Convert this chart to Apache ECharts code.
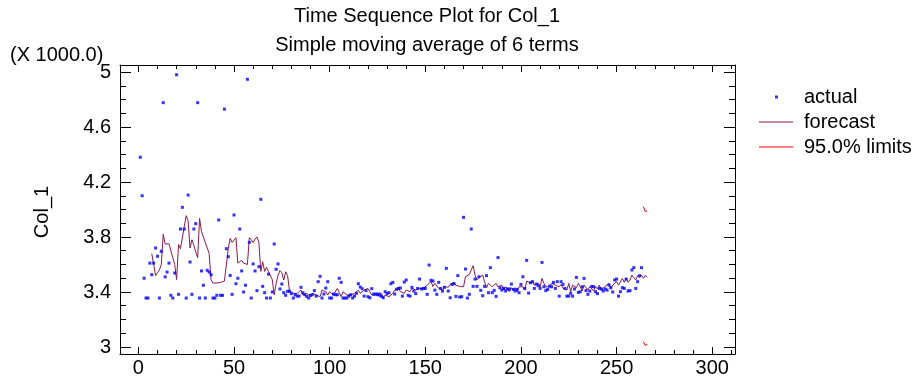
<!DOCTYPE html>
<html><head><meta charset="utf-8">
<script src="https://cdn.jsdelivr.net/npm/echarts@6/dist/echarts.min.js"></script>
<style>html,body{margin:0;padding:0;background:#fff}#c{width:917px;height:381px}</style>
</head><body><div id="c"></div>
<script>
const chartTitle = 'Time Sequence Plot for Col_1';
const chartSubtitle = 'Simple moving average of 6 terms';
const yAxisTitle = 'Col_1';
const yScaleNote = '(X 1000.0)';
const xTicks = [0, 50, 100, 150, 200, 250, 300];
const xMinorTicks = [10, 20, 30, 40, 60, 70, 80, 90, 110, 120, 130, 140, 160, 170, 180, 190, 210, 220, 230, 240, 260, 270, 280, 290, 310];
const yTicks = [3, 3.4, 3.8, 4.2, 4.6, 5];
const yMinorTicks = [3.1, 3.2, 3.3, 3.5, 3.6, 3.7, 3.9, 4.0, 4.1, 4.3, 4.4, 4.5, 4.7, 4.8, 4.9];
const xRange = [-9.6, 311.9];
const yRange = [2.949, 5.051];

const actualStart = 1;
const actual = [
  4.38, 4.10, 3.50, 3.356, 3.356, 3.61, 3.526, 3.61, 3.72, 3.66,
  3.356, 3.696, 4.777, 3.51, 3.545, 3.61, 3.376, 3.356, 3.538, 4.98,
  3.383, 3.858, 4.016, 3.858, 3.356, 4.105, 3.618, 3.383, 3.858, 3.897,
  4.777, 3.356, 3.553, 3.449, 3.356, 3.558, 3.545, 3.526, 3.356, 3.356,
  3.376, 3.924, 3.376, 3.376, 4.73, 3.715, 3.657, 3.52, 3.383, 3.96,
  3.46, 3.50, 3.858, 3.553, 3.40, 3.449, 4.947, 3.761, 3.356, 3.604,
  3.553, 3.41, 3.584, 4.074, 3.441, 3.395, 3.356, 3.53, 3.356, 3.40,
  3.749, 3.565, 3.604, 3.422,
  3.458, 3.395, 3.376, 3.405, 3.405, 3.388, 3.356, 3.38, 3.37, 3.37,
  3.434, 3.395, 3.38, 3.368, 3.356, 3.376, 3.38, 3.41, 3.37, 3.475,
  3.514, 3.356, 3.385, 3.429, 3.475, 3.356, 3.356, 3.385, 3.38, 3.38,
  3.5, 3.47, 3.356, 3.356, 3.356, 3.37, 3.38, 3.356, 3.37, 3.39,
  3.46, 3.436, 3.424, 3.37, 3.41, 3.366,
  3.358, 3.424, 3.385, 3.385, 3.38, 3.385, 3.368, 3.358, 3.402, 3.388,
  3.395, 3.46, 3.47, 3.385, 3.42, 3.426, 3.429, 3.37, 3.472, 3.487,
  3.376, 3.37, 3.434, 3.407, 3.388, 3.426, 3.494, 3.422, 3.426, 3.426,
  3.383, 3.596, 3.485, 3.48, 3.414, 3.383, 3.47, 3.426, 3.407, 3.434,
  3.572, 3.407, 3.358, 3.455, 3.46, 3.368, 3.519, 3.363,
  3.366, 3.943, 3.567, 3.356, 3.383, 3.858, 3.441, 3.494, 3.441, 3.511,
  3.412, 3.373, 3.441, 3.519, 3.395, 3.577, 3.395, 3.412, 3.368, 3.65,
  3.431, 3.414, 3.426, 3.407, 3.422, 3.422, 3.458, 3.419, 3.407, 3.419,
  3.395, 3.455, 3.511, 3.426, 3.63, 3.392, 3.468, 3.475, 3.426, 3.458,
  3.446, 3.426, 3.615, 3.438, 3.41, 3.419, 3.443, 3.438,
  3.47, 3.426, 3.475, 3.37, 3.475, 3.455, 3.426, 3.37, 3.37, 3.39,
  3.37, 3.422, 3.506, 3.397, 3.402, 3.438, 3.499, 3.41, 3.383, 3.407,
  3.44, 3.438, 3.402, 3.388, 3.426, 3.422, 3.407, 3.422, 3.414, 3.45,
  3.431, 3.40, 3.487, 3.494, 3.37, 3.402, 3.431, 3.426, 3.494, 3.407,
  3.41, 3.56, 3.577, 3.426, 3.475, 3.519, 3.577
];

const forecastStart = 7;
const forecast = [
  3.68, 3.60, 3.52, 3.54, 3.56, 3.60, 3.82, 3.75, 3.74, 3.75,
  3.74, 3.65, 3.60, 3.49, 3.745, 3.715, 3.72, 3.875, 3.955, 3.92,
  3.72, 3.78, 3.74, 3.69, 3.65, 3.935, 3.84, 3.80, 3.795, 3.72,
  3.68, 3.49, 3.465, 3.46, 3.465, 3.47, 3.47, 3.48, 3.48, 3.48,
  3.715, 3.79, 3.76, 3.77, 3.795, 3.61, 3.62, 3.63, 3.61, 3.62,
  3.60, 3.795, 3.78, 3.76, 3.785, 3.80, 3.76, 3.55, 3.62, 3.55,
  3.58, 3.55, 3.55, 3.49, 3.38, 3.46, 3.52, 3.556,
  3.54, 3.487, 3.547, 3.52, 3.41, 3.40, 3.39, 3.378, 3.39, 3.402,
  3.414, 3.378, 3.385, 3.39, 3.402, 3.366, 3.39, 3.402, 3.378, 3.378,
  3.366, 3.414, 3.426, 3.402, 3.378, 3.402, 3.39, 3.378, 3.39, 3.426,
  3.414, 3.366, 3.402, 3.402, 3.378, 3.39, 3.378, 3.366, 3.39, 3.402,
  3.414, 3.39, 3.378, 3.414, 3.426, 3.426,
  3.43, 3.378, 3.39, 3.378, 3.395, 3.366, 3.39, 3.358, 3.378, 3.39,
  3.366, 3.378, 3.39, 3.414, 3.414, 3.43, 3.402, 3.414, 3.39, 3.414,
  3.426, 3.402, 3.426, 3.44, 3.414, 3.402, 3.426, 3.44, 3.426, 3.414,
  3.45, 3.446, 3.475, 3.44, 3.463, 3.47, 3.426, 3.44, 3.414, 3.44,
  3.443, 3.434, 3.455, 3.446, 3.47, 3.45, 3.44, 3.44,
  3.443, 3.438, 3.511, 3.523, 3.528, 3.535, 3.591, 3.523, 3.487, 3.504,
  3.499, 3.523, 3.475, 3.43, 3.463, 3.475, 3.438, 3.45, 3.463, 3.438,
  3.426, 3.45, 3.414, 3.438, 3.426, 3.402, 3.431, 3.414, 3.431, 3.402,
  3.438, 3.426, 3.438, 3.414, 3.48, 3.475, 3.463, 3.48, 3.45, 3.438,
  3.463, 3.438, 3.499, 3.463, 3.438, 3.45, 3.438, 3.463,
  3.475, 3.45, 3.463, 3.438, 3.455, 3.426, 3.44, 3.414, 3.463, 3.402,
  3.45, 3.455, 3.431, 3.463, 3.44, 3.407, 3.45, 3.463, 3.414, 3.44,
  3.431, 3.407, 3.44, 3.422, 3.45, 3.414, 3.402, 3.44, 3.426, 3.463,
  3.426, 3.45, 3.44, 3.475, 3.45, 3.463, 3.499, 3.47, 3.499, 3.47,
  3.487, 3.523, 3.504, 3.487, 3.519, 3.504, 3.523, 3.50, 3.52, 3.51
];

const limitsStart = 264;
const upperLimit = [4.02, 3.985, 3.99];
const lowerLimit = [3.04, 3.01, 3.02];

const FONT = '"Liberation Sans", Arial, sans-serif';
const FS = 20;
const toPairs = (arr, start) => arr.map((v, i) => [start + i, v]);
const fmt = v => String(Math.round(v * 10) / 10);

const chart = echarts.init(document.getElementById('c'), null, { renderer: 'canvas' });

function mkAxis(range, position, tickValues, tickLen, withLine, labels) {
  return {
    type: 'value', min: range[0], max: range[1], position: position, offset: 0,
    axisLine: { show: withLine, onZero: false, lineStyle: { color: '#000', width: 1 } },
    splitLine: { show: false },
    minorTick: { show: false },
    axisTick: { show: true, inside: true, length: tickLen, customValues: tickValues,
      lineStyle: { color: '#000', width: 1 } },
    axisLabel: labels ? Object.assign({ customValues: tickValues, color: '#000', fontSize: FS,
      fontFamily: FONT, formatter: fmt }, labels) : { show: false }
  };
}

chart.setOption({
  animation: false,
  backgroundColor: '#fff',
  grid: { left: 120, right: 182, top: 65, bottom: 27, containLabel: false, outerBoundsMode: 'none' },
  xAxis: [
    mkAxis(xRange, 'bottom', xTicks, 7, true, { margin: 4 }),
    mkAxis(xRange, 'bottom', xMinorTicks, 4, false, null),
    mkAxis(xRange, 'top', xTicks, 7, true, null),
    mkAxis(xRange, 'top', xMinorTicks, 4, false, null)
  ],
  yAxis: [
    mkAxis(yRange, 'left', yTicks, 11, true, { margin: 9 }),
    mkAxis(yRange, 'left', yMinorTicks, 6, false, null),
    mkAxis(yRange, 'right', yTicks, 11, true, null),
    mkAxis(yRange, 'right', yMinorTicks, 6, false, null)
  ],
  legend: [
    { data: ['actual'], left: 770, top: 82, itemWidth: 3, itemHeight: 3, icon: 'rect',
      formatter: n => '{g|}' + n,
      textStyle: { color: '#000', fontSize: FS, fontFamily: FONT, rich: { g: { width: 21 } } } },
    { data: [{ name: 'forecast', icon: 'rect' }, { name: '95.0% limits', icon: 'rect' }],
      orient: 'vertical', left: 754, top: 107,
      itemWidth: 34, itemHeight: 1, itemGap: 5,
      formatter: n => '{g|}' + n,
      textStyle: { color: '#000', fontSize: FS, fontFamily: FONT, rich: { g: { width: 6 } } } }
  ],
  graphic: [
    { type: 'text', x: 427, y: 16, style: { text: chartTitle, font: FS + 'px ' + FONT, fill: '#000', align: 'center', verticalAlign: 'middle' } },
    { type: 'text', x: 427, y: 45, style: { text: chartSubtitle, font: FS + 'px ' + FONT, fill: '#000', align: 'center', verticalAlign: 'middle' } },
    { type: 'text', x: 10, y: 55, style: { text: yScaleNote, font: FS + 'px ' + FONT, fill: '#000', align: 'left', verticalAlign: 'middle' } },
    { type: 'text', x: 42, y: 212, rotation: Math.PI / 2, style: { text: yAxisTitle, font: FS + 'px ' + FONT, fill: '#000', align: 'center', verticalAlign: 'middle' } }
  ],
  series: [
    { name: 'forecast', type: 'line', data: toPairs(forecast, forecastStart), symbol: 'none', showSymbol: false,
      lineStyle: { color: '#8b1a4b', width: 1 }, itemStyle: { color: '#8b1a4b' }, z: 2 },
    { name: '95.0% limits', type: 'line', data: toPairs(upperLimit, limitsStart), symbol: 'none', showSymbol: false,
      lineStyle: { color: '#ff0000', width: 1 }, itemStyle: { color: '#ff0000' }, z: 2 },
    { name: '95.0% limits', type: 'line', data: toPairs(lowerLimit, limitsStart), symbol: 'none', showSymbol: false,
      lineStyle: { color: '#ff0000', width: 1 }, itemStyle: { color: '#ff0000' }, z: 2 },
    { name: 'actual', type: 'scatter', data: toPairs(actual, actualStart), symbol: 'rect', symbolSize: 3,
      itemStyle: { color: '#0000ff' }, z: 3 }
  ]
});
</script></body></html>
